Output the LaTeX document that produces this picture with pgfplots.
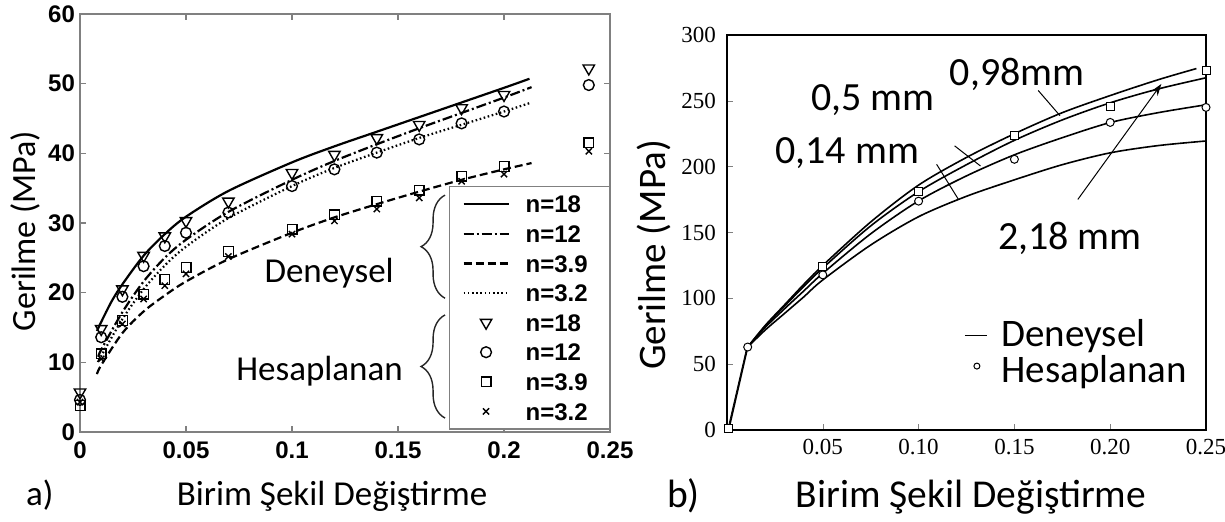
\documentclass[border=0pt]{standalone}
\usepackage{fontspec}
\setmainfont{Carlito}
\newfontfamily\arialf{Liberation Sans}
\newfontfamily\timesf{Liberation Serif}
\usepackage{pgfplots}
\pgfplotsset{compat=1.18}
\usetikzlibrary{decorations.pathreplacing,arrows.meta}
\pgfplotsset{
  lline/.style={black, line width=1.1pt, smooth, no markers,
    legend image code/.code={\draw[##1] (0pt,0pt) -- (22.5pt,0pt);}},
  mmark/.style={black, only marks, line width=0.7pt,
    legend image code/.code={\draw[##1] plot coordinates {(11.25pt,0pt)};}},
}
\begin{document}
\begin{tikzpicture}
\path[use as bounding box] (0,0) rectangle (612.5pt,261pt);

% ---------------- left plot a) ----------------
\begin{axis}[
  at={(40pt,45pt)}, anchor=south west,
  scale only axis, width=265pt, height=209pt,
  xmin=0, xmax=0.25, ymin=0, ymax=60,
  xtick={0,0.05,0.1,0.15,0.2,0.25}, xticklabels={0,0.05,0.1,0.15,0.2,0.25},
  ytick={0,10,20,30,40,50,60}, yticklabels={0,10,20,30,40,50,60},
  scaled ticks=false,
  axis line style={draw=black!50, line width=0.8pt},
  major tick style={draw=black!50, line width=0.6pt}, major tick length=3pt,
  ticklabel style={font=\arialf\bfseries\fontsize{12}{13}\selectfont},
  xticklabel style={yshift=-1.5pt},
  yticklabel style={xshift=1pt},
  clip=false,
  legend cell align=left,
  legend style={at={(0.696,0.5885)}, anchor=north west, draw=black!50, line width=0.6pt, fill=white,
     inner xsep=6.5pt, inner ysep=4.5pt, row sep=6.2pt, column sep=8pt,
     font=\arialf\bfseries\fontsize{12}{13}\selectfont,
     nodes={inner sep=0pt, text height=8.6pt, text depth=0pt, text width=35.5pt}},
]
\addplot[lline, solid] coordinates {(0.008,14.5)(0.01,15.8)(0.015,18.8)(0.02,21.2)(0.03,25.3)(0.04,28.4)(0.05,30.9)(0.07,34.6)(0.1,38.7)(0.12,41.0)(0.14,43.1)(0.16,45.2)(0.18,47.3)(0.2,49.4)(0.212,50.7)};
\addlegendentry{n=18}
\addplot[lline, dash pattern=on 5pt off 1.5pt on 1pt off 1.5pt] coordinates {(0.0087,10.8)(0.01,11.8)(0.02,17.2)(0.03,21.6)(0.04,25.0)(0.05,27.6)(0.07,31.6)(0.1,36.2)(0.12,38.9)(0.14,41.3)(0.16,43.6)(0.18,45.8)(0.2,48.0)(0.213,49.5)};
\addlegendentry{n=12}
\addplot[lline, dash pattern=on 4pt off 2pt] coordinates {(0.008,8.3)(0.01,9.6)(0.02,14.2)(0.03,17.3)(0.04,19.6)(0.05,21.6)(0.07,24.8)(0.1,28.6)(0.12,30.8)(0.14,32.7)(0.16,34.5)(0.18,36.2)(0.2,37.7)(0.213,38.6)};
\addlegendentry{n=3.9}
\addplot[lline, dash pattern=on 0.8pt off 1.3pt] coordinates {(0.009,10.3)(0.01,10.9)(0.02,16.2)(0.03,20.5)(0.04,23.9)(0.05,26.6)(0.07,30.7)(0.1,35.3)(0.12,37.9)(0.14,40.1)(0.16,42.2)(0.18,44.1)(0.2,46.0)(0.213,47.3)};
\addlegendentry{n=3.2}
\addplot[mmark, mark=triangle, mark size=3.3pt, mark options={rotate=180}] coordinates {(0,5.7)(0.01,14.8)(0.02,20.5)(0.03,25.3)(0.04,28.1)(0.05,30.3)(0.07,33.1)(0.1,37.2)(0.12,39.8)(0.14,42.2)(0.16,44.1)(0.18,46.5)(0.2,48.4)(0.24,52.2)};
\addlegendentry{n=18}
\addplot[mmark, mark=o, mark size=2.7pt] coordinates {(0,4.6)(0.01,13.6)(0.02,19.4)(0.03,23.8)(0.04,26.7)(0.05,28.6)(0.07,31.5)(0.1,35.3)(0.12,37.7)(0.14,40.1)(0.16,42.0)(0.18,44.3)(0.2,46.0)(0.24,49.8)};
\addlegendentry{n=12}
\addplot[mmark, mark=square, mark size=2.4pt] coordinates {(0,3.8)(0.01,11.2)(0.02,16.0)(0.03,19.8)(0.04,21.9)(0.05,23.6)(0.07,25.9)(0.1,29.1)(0.12,31.2)(0.14,33.1)(0.16,34.7)(0.18,36.7)(0.2,38.1)(0.24,41.5)};
\addlegendentry{n=3.9}
\addplot[mmark, mark=x, mark size=2.2pt] coordinates {(0,4.3)(0.01,10.5)(0.02,15.5)(0.03,19.1)(0.04,21.0)(0.05,22.7)(0.07,25.2)(0.1,28.4)(0.12,30.3)(0.14,32.0)(0.16,33.6)(0.18,36.0)(0.2,37.0)(0.24,40.3)};
\addlegendentry{n=3.2}
\node[anchor=base, font=\fontsize{17.5}{20}\selectfont] at (axis cs:0.1175,21.5) {Deneysel};
\node[anchor=base, font=\fontsize{17.5}{20}\selectfont] at (axis cs:0.113,7.4) {Hesaplanan};
\draw[decorate, decoration={brace, amplitude=12pt}, line width=0.7pt, black!85] (axis cs:0.1722,19.2) -- (axis cs:0.1722,34.0);
\draw[decorate, decoration={brace, amplitude=12pt}, line width=0.7pt, black!85] (axis cs:0.1722,2.0) -- (axis cs:0.1722,16.8);
\end{axis}

% ---------------- right plot b) ----------------
\begin{axis}[
  at={(363.5pt,46pt)}, anchor=south west,
  scale only axis, width=239.5pt, height=197.5pt,
  xmin=0, xmax=0.25, ymin=0, ymax=300,
  xtick={0.05,0.1,0.15,0.2,0.25}, xticklabels={0.05,0.10,0.15,0.20,0.25},
  ytick={0,50,100,150,200,250,300}, yticklabels={0,50,100,150,200,250,300},
  scaled ticks=false,
  tick pos=left, major tick length=3pt,
  axis line style={line width=0.7pt},
  ticklabel style={font=\timesf\fontsize{11.5}{12}\selectfont},
  yticklabel style={xshift=-2pt},
  xticklabel style={yshift=-1pt},
  clip=false,
  legend cell align=left,
  legend style={at={(0.4948,0.277)}, anchor=north west, draw=none, fill=none,
     inner sep=0pt, row sep=5.5pt, column sep=7pt,
     font=\fontsize{19.5}{22}\selectfont,
     nodes={inner sep=0pt, text height=12.7pt, text depth=0pt}},
]
\addplot[black, line width=0.8pt, smooth,
  legend image code/.code={\draw[black, line width=0.5pt] (0pt,-1pt) -- (11pt,-1pt);}]
  coordinates {(0.0108,63)(0.02,79.5)(0.03,95)(0.04,110.5)(0.05,125)(0.075,158)(0.1,186)(0.125,207)(0.15,225)(0.175,241)(0.2,254)(0.225,266)(0.245,274.5)};
\addlegendentry{Deneysel}
\addplot[black, line width=0.8pt, smooth, forget plot]
  coordinates {(0.0108,63)(0.02,79)(0.03,94)(0.04,109)(0.05,123)(0.075,155)(0.1,181)(0.125,201.5)(0.15,220)(0.175,235.5)(0.2,248.5)(0.225,259)(0.25,267.5)};
\addplot[black, line width=0.8pt, smooth, forget plot]
  coordinates {(0.0108,63)(0.02,78)(0.03,92)(0.04,105.5)(0.05,119)(0.075,149)(0.1,174)(0.125,193)(0.15,209)(0.175,222)(0.2,233.5)(0.225,241)(0.25,247)};
\addplot[black, line width=0.8pt, smooth, forget plot]
  coordinates {(0.0108,63)(0.02,76)(0.03,88.5)(0.04,101)(0.05,114)(0.075,140.5)(0.1,162)(0.125,177.5)(0.15,190)(0.175,201.5)(0.2,210.5)(0.225,216)(0.25,219.5)};
\addplot[black, line width=0.8pt, forget plot] coordinates {(0.001,1)(0.0108,63)};
\addplot[black, line width=0.4pt, forget plot] coordinates {(0.0005,1)(0.0102,62)};
\addplot[black, only marks, mark=square*, mark size=2pt, mark options={fill=white, line width=0.5pt}, forget plot]
  coordinates {(0.001,1)(0.05,124.2)(0.1,181.4)(0.15,224)(0.2,245.8)(0.25,273)};
\addplot[black, only marks, mark=*, mark size=2pt, mark options={fill=white, line width=0.5pt},
  legend image code/.code={\draw[black, line width=0.5pt, fill=white] (6pt,2pt) circle (1.5pt);}]
  coordinates {(0.0108,63)(0.05,117.8)(0.1,173.8)(0.15,205.6)(0.2,233.6)(0.25,245)};
\addlegendentry{Hesaplanan}
\node[anchor=base, font=\fontsize{20}{22}\selectfont] at (axis cs:0.1514,261.6) {0,98mm};
\node[anchor=base, font=\fontsize{20}{22}\selectfont] at (axis cs:0.0762,242.5) {0,5 mm};
\node[anchor=base, font=\fontsize{20}{22}\selectfont] at (axis cs:0.0627,202.5) {0,14 mm};
\node[anchor=base, font=\fontsize{20}{22}\selectfont] at (axis cs:0.179,136.9) {2,18 mm};
\draw[line width=0.5pt] (axis cs:0.1624,257.9) -- (axis cs:0.1738,238.7);
\draw[line width=0.5pt] (axis cs:0.1188,215.8) -- (axis cs:0.1323,200.5);
\draw[line width=0.5pt] (axis cs:0.1094,201.8) -- (axis cs:0.1208,175.1);
\draw[line width=0.5pt, -{Stealth[length=6pt,width=4pt]}] (axis cs:0.1831,175.1) -- (axis cs:0.2267,262.8);
\end{axis}

% ---------------- outer labels ----------------
\node[rotate=90, font=\fontsize{17}{20}\selectfont] at (12.5pt,145.5pt) {Gerilme (MPa)};
\node[rotate=90, font=\fontsize{19.5}{22}\selectfont] at (327pt,133.5pt) {Gerilme (MPa)};
\node[anchor=base, font=\fontsize{17.5}{20}\selectfont] at (166pt,8pt) {Birim Şekil Değiştirme};
\node[anchor=base west, font=\fontsize{17.5}{20}\selectfont] at (9.5pt,8pt) {a)};
\node[anchor=base, font=\fontsize{19.75}{22}\selectfont] at (485.5pt,7pt) {Birim Şekil Değiştirme};
\node[anchor=base west, font=\fontsize{19.75}{22}\selectfont] at (330pt,7pt) {b)};
\end{tikzpicture}
\end{document}
